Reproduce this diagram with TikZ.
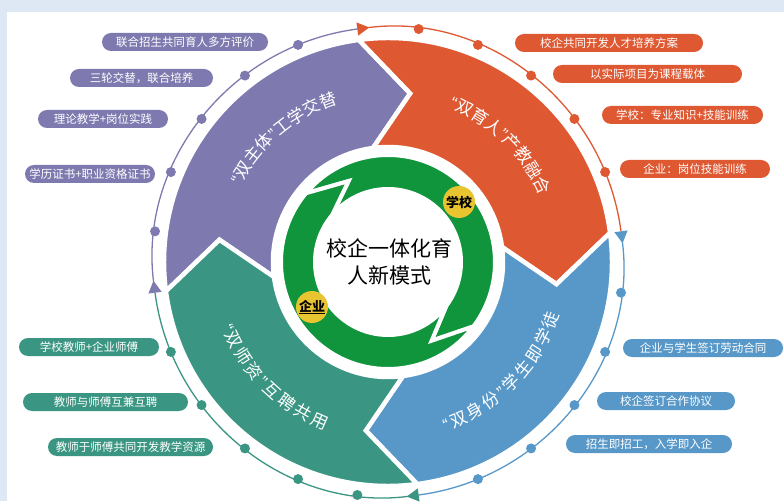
\documentclass[tikz,border=0pt]{standalone}
\usepackage{fontspec}
\setmainfont{Noto Sans CJK SC}
\newfontfamily\quotefont{Liberation Sans}
\usepackage{tikz}
\usetikzlibrary{arrows.meta}
\usetikzlibrary{decorations.text}

\definecolor{zhupurple}{HTML}{7E7AB0}
\definecolor{zhuorange}{HTML}{DE5832}
\definecolor{zhublue}{HTML}{5898C8}
\definecolor{zhuteal}{HTML}{3A9682}
\definecolor{zhugreen}{HTML}{10943C}
\definecolor{zhuyellow}{HTML}{E8C430}
\definecolor{framebg}{HTML}{DDE8F4}
\newcommand{\sectorfont}{\fontsize{17}{17}\selectfont}
\newcommand{\lowfont}{\fontsize{17}{17}\selectfont\kern2.5pt}

\begin{document}
\begin{tikzpicture}[x=1pt, y=1pt,
    sector/.style={draw=white, line width=4.5pt},
    ring/.style={fill=zhugreen, draw=white, line width=4pt},
    pill/.style={rounded corners=9pt, minimum height=18pt, inner sep=0pt, text=white, font=\fontsize{11.5}{12}\selectfont},
    bead/.style={circle, inner sep=0pt, minimum size=10pt},
    rim/.style={line width=1.3pt},
    badge/.style={circle, fill=zhuyellow, inner sep=0pt, minimum size=32pt, font=\fontsize{13}{14}\selectfont\bfseries},
    arctext/.style={decorate, decoration={text along path, text align=center, text color=white, text={#1}}}
  ]
  \useasboundingbox (0,0) rectangle (784,501);
  % Frame
  \fill[framebg] (0,0) rectangle (784,501);
  \fill[white] (7,0) rectangle (784,489);

  \begin{scope}[shift={(388,239)}]
    % Outer sectors (clockwise flow)
    \fill[zhupurple, sector] (187.5:224) arc[start angle=187.5, end angle=97.5, radius=224] -- (82.5:170) -- (97.5:115) arc[start angle=97.5, end angle=187.5, radius=115] -- (172.5:170) -- cycle;
    \fill[zhuorange, sector] (97.5:224) arc[start angle=97.5, end angle=7.5, radius=224] -- (-7.5:170) -- (7.5:115) arc[start angle=7.5, end angle=97.5, radius=115] -- (82.5:170) -- cycle;
    \fill[zhublue, sector] (7.5:224) arc[start angle=7.5, end angle=-82.5, radius=224] -- (-97.5:170) -- (-82.5:115) arc[start angle=-82.5, end angle=7.5, radius=115] -- (-7.5:170) -- cycle;
    \fill[zhuteal, sector] (-82.5:224) arc[start angle=-82.5, end angle=-172.5, radius=224] -- (-187.5:170) -- (-172.5:115) arc[start angle=-172.5, end angle=-82.5, radius=115] -- (-97.5:170) -- cycle;

    % Sector titles
    \path[arctext={|\quotefont\sectorfont|“|\sectorfont|双主体|\quotefont\sectorfont|”|\sectorfont|工学交替}] (170:166) arc[start angle=170, end angle=90, radius=166];
    \path[arctext={|\quotefont\sectorfont|“|\sectorfont|双育人|\quotefont\sectorfont|”|\sectorfont|产教融合}] (86:166) arc[start angle=86, end angle=6, radius=166];
    \path[arctext={|\quotefont\lowfont|“|\lowfont|双身份|\quotefont\lowfont|”|\lowfont|学生即学徒}] (-84.5:179) arc[start angle=-84.5, end angle=-4.5, radius=179];
    \path[arctext={|\quotefont\lowfont|“|\lowfont|双师资|\quotefont\lowfont|”|\lowfont|互聘共用}] (185:179) arc[start angle=185, end angle=265, radius=179];

    % Green ring
    \path[ring] (140:107) arc[start angle=140, end angle=-37, radius=107] -- (-61:90) -- (-37:73) arc[start angle=-37, end angle=140, radius=73] -- (116:90) -- cycle;
    \path[ring] (-37:107) arc[start angle=-37, end angle=-220, radius=107] -- (-244:90) -- (-220:73) arc[start angle=-220, end angle=-37, radius=73] -- (-61:90) -- cycle;
    \node[badge] (school) at (71,60) {学校};
    \node[badge] (firm) at (-76,-45) {\underline{企业}};
    \node[font=\fontsize{21}{27}\selectfont, align=center] (core) at (1,0) {校企一体化育\\人新模式};

    % Outer rim
    \draw[rim, zhupurple, {Triangle[reversed, length=12pt, width=13pt]}-] (187.5:235) arc[start angle=187.5, end angle=97.5, radius=235];
    \draw[rim, zhuorange, {Triangle[reversed, length=12pt, width=13pt]}-] (97.5:235) arc[start angle=97.5, end angle=7.5, radius=235];
    \draw[rim, zhublue, {Triangle[reversed, length=12pt, width=13pt]}-] (7.5:235) arc[start angle=7.5, end angle=-82.5, radius=235];
    \draw[rim, zhuteal, {Triangle[reversed, length=12pt, width=13pt]}-] (-82.5:235) arc[start angle=-82.5, end angle=-172.5, radius=235];

    % Beads - purple
    \node[bead, fill=zhupurple] (p1) at (112.5:235) {};
    \node[bead, fill=zhupurple] (p2) at (127.5:235) {};
    \node[bead, fill=zhupurple] (p3) at (142.5:235) {};
    \node[bead, fill=zhupurple] (p4) at (157.5:235) {};
    \node[bead, fill=zhupurple] (p5) at (172.5:235) {};
    % Beads - orange
    \node[bead, fill=zhuorange] (o0) at (82.5:235) {};
    \node[bead, fill=zhuorange] (o1) at (67.5:235) {};
    \node[bead, fill=zhuorange] (o2) at (52.5:235) {};
    \node[bead, fill=zhuorange] (o3) at (37.5:235) {};
    \node[bead, fill=zhuorange] (o4) at (22.5:235) {};
    % Beads - blue
    \node[bead, fill=zhublue] (b0) at (-7.5:235) {};
    \node[bead, fill=zhublue] (b1) at (-22.5:235) {};
    \node[bead, fill=zhublue] (b2) at (-37.5:235) {};
    \node[bead, fill=zhublue] (b3) at (-52.5:235) {};
    \node[bead, fill=zhublue] (b4) at (-67.5:235) {};
    % Beads - teal
    \node[bead, fill=zhuteal] (t5) at (-97.5:235) {};
    \node[bead, fill=zhuteal] (t4) at (-112.5:235) {};
    \node[bead, fill=zhuteal] (t3) at (-127.5:235) {};
    \node[bead, fill=zhuteal] (t2) at (-142.5:235) {};
    \node[bead, fill=zhuteal] (t1) at (-157.5:235) {};
  \end{scope}

  % Labels - purple
  \node[pill, fill=zhupurple, minimum width=166pt] (pl1) at (185,459) {联合招生共同育人多方评价};
  \node[pill, fill=zhupurple, minimum width=143pt] (pl2) at (141.5,423) {三轮交替，联合培养};
  \node[pill, fill=zhupurple, minimum width=130pt] (pl3) at (103,382) {理论教学+岗位实践};
  \node[pill, fill=zhupurple, minimum width=130pt] (pl4) at (90,327) {学历证书+职业资格证书};
  % Labels - orange
  \node[pill, fill=zhuorange, minimum width=188pt] (ol1) at (609,458) {校企共同开发人才培养方案};
  \node[pill, fill=zhuorange, minimum width=189pt] (ol2) at (647.5,427) {以实际项目为课程载体};
  \node[pill, fill=zhuorange, minimum width=161pt] (ol3) at (682.5,386) {学校：专业知识+技能训练};
  \node[pill, fill=zhuorange, minimum width=150pt] (ol4) at (695,332) {企业：岗位技能训练};
  % Labels - blue
  \node[pill, fill=zhublue, minimum width=160pt] (bl1) at (703,153) {企业与学生签订劳动合同};
  \node[pill, fill=zhublue, minimum width=138pt] (bl2) at (666,100) {校企签订合作协议};
  \node[pill, fill=zhublue, minimum width=166pt] (bl3) at (649,57) {招生即招工，入学即入企};
  % Labels - teal
  \node[pill, fill=zhuteal, minimum width=140pt] (tl1) at (89,154) {学校教师+企业师傅};
  \node[pill, fill=zhuteal, minimum width=165pt] (tl2) at (105.5,99) {教师与师傅互兼互聘};
  \node[pill, fill=zhuteal, minimum width=165pt] (tl3) at (130.5,54) {教师于师傅共同开发教学资源};
\end{tikzpicture}
\end{document}
